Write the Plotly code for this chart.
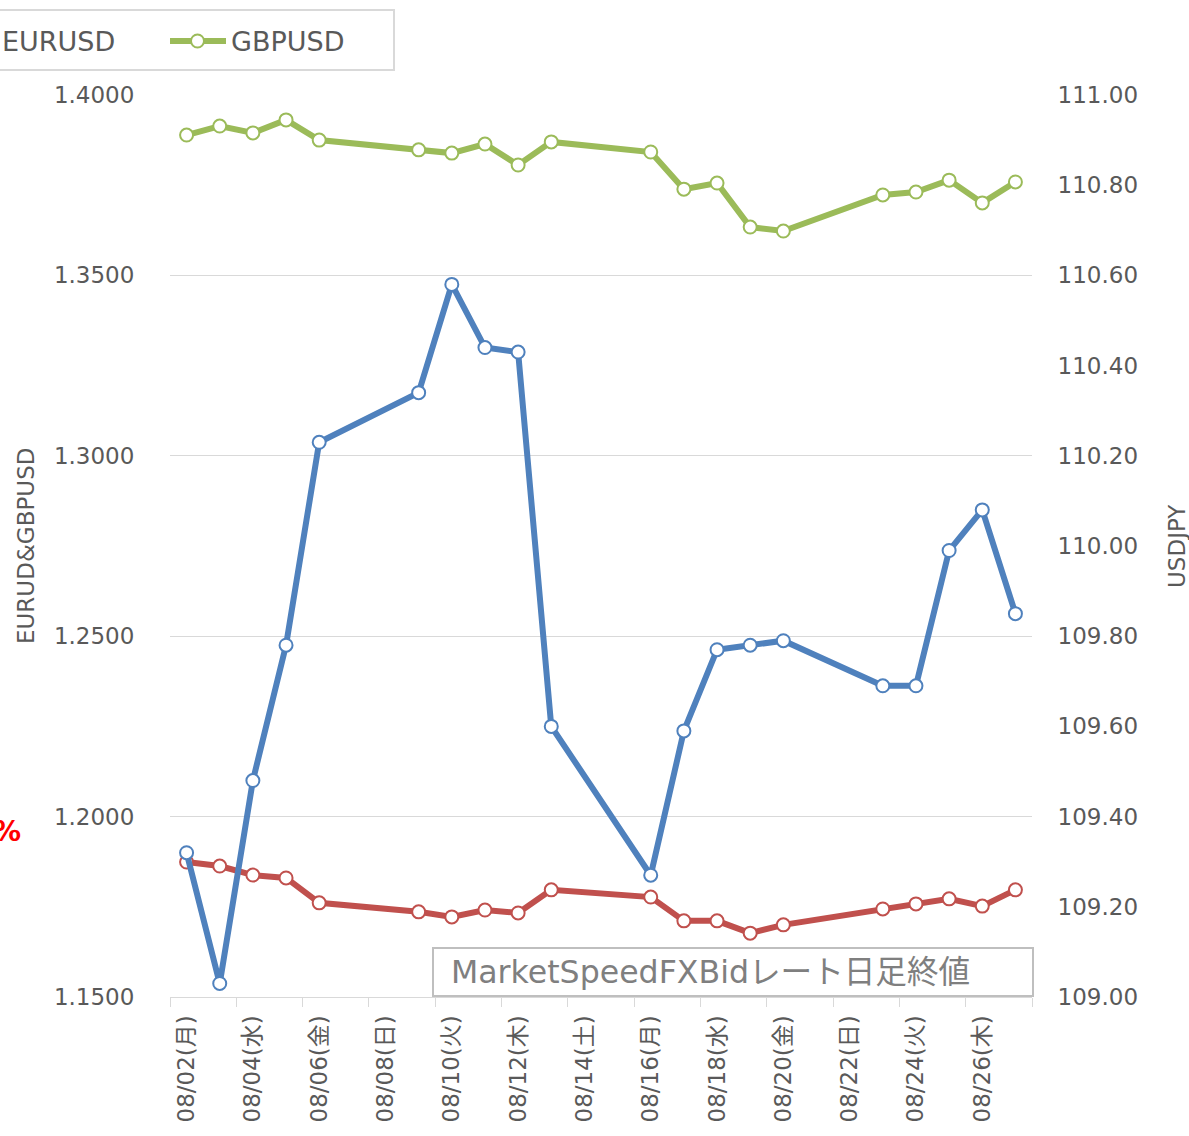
import plotly.graph_objects as go

dates = ["2021-08-02", "2021-08-03", "2021-08-04", "2021-08-05", "2021-08-06",
         "2021-08-09", "2021-08-10", "2021-08-11", "2021-08-12", "2021-08-13",
         "2021-08-16", "2021-08-17", "2021-08-18", "2021-08-19", "2021-08-20",
         "2021-08-23", "2021-08-24", "2021-08-25", "2021-08-26", "2021-08-27"]

usdjpy = [109.32, 109.03, 109.48, 109.78, 110.23,
          110.34, 110.58, 110.44, 110.43, 109.60,
          109.27, 109.59, 109.77, 109.78, 109.79,
          109.69, 109.69, 109.99, 110.08, 109.85]

eurusd = [1.1874, 1.1863, 1.1838, 1.1830, 1.1761,
          1.1736, 1.1722, 1.1741, 1.1733, 1.1797,
          1.1777, 1.1711, 1.1711, 1.1677, 1.1700,
          1.1744, 1.1758, 1.1772, 1.1752, 1.1797]

gbpusd = [1.3889, 1.3914, 1.3895, 1.3931, 1.3875,
          1.3848, 1.3839, 1.3864, 1.3806, 1.3870,
          1.3842, 1.3739, 1.3756, 1.3634, 1.3623,
          1.3723, 1.3731, 1.3764, 1.3701, 1.3759]

tick_dates = ["2021-08-02", "2021-08-04", "2021-08-06", "2021-08-08", "2021-08-10",
              "2021-08-12", "2021-08-14", "2021-08-16", "2021-08-18", "2021-08-20",
              "2021-08-22", "2021-08-24", "2021-08-26"]
tick_labels = ["08/02(月)", "08/04(水)", "08/06(金)", "08/08(日)", "08/10(火)",
               "08/12(木)", "08/14(土)", "08/16(月)", "08/18(水)", "08/20(金)",
               "08/22(日)", "08/24(火)", "08/26(木)"]
boundary_ticks = ["2021-08-01 12:00", "2021-08-03 12:00", "2021-08-05 12:00",
                  "2021-08-07 12:00", "2021-08-09 12:00", "2021-08-11 12:00",
                  "2021-08-13 12:00", "2021-08-15 12:00", "2021-08-17 12:00",
                  "2021-08-19 12:00", "2021-08-21 12:00", "2021-08-23 12:00",
                  "2021-08-25 12:00", "2021-08-27 12:00"]

BLUE = "#4f81bd"
RED = "#c0504d"
GREEN = "#9bbb59"
TXT = "#595959"
FONT = "DejaVu Sans, Noto Sans CJK JP, sans-serif"

W, H = 1189, 1136
L, R, T, B = 170, 157, 95, 139
PW, PH = W - L - R, H - T - B


def px(x):
    return (x - L) / PW


def py(y):
    return (H - B - y) / PH


def mk(color):
    return dict(symbol="circle", size=13, color="white", line=dict(color=color, width=2))


fig = go.Figure()
fig.add_trace(go.Scatter(x=dates, y=eurusd, name="EURUSD", mode="lines+markers",
                         line=dict(color=RED, width=6), marker=mk(RED), yaxis="y"))
fig.add_trace(go.Scatter(x=dates, y=gbpusd, name="GBPUSD", mode="lines+markers",
                         line=dict(color=GREEN, width=6), marker=mk(GREEN), yaxis="y"))
fig.add_trace(go.Scatter(x=dates, y=usdjpy, name="USDJPY", mode="lines+markers",
                         line=dict(color=BLUE, width=6), marker=mk(BLUE), yaxis="y2"))

shapes = [
    # legend box
    dict(type="rect", xref="paper", yref="paper", x0=px(-60), x1=px(394), y0=py(70), y1=py(10),
         line=dict(color="#d9d9d9", width=2), fillcolor="white", layer="below"),
    dict(type="line", xref="paper", yref="paper", x0=px(170), x1=px(226), y0=py(41), y1=py(41),
         line=dict(color=GREEN, width=6)),
    dict(type="circle", xref="paper", yref="paper",
         x0=px(191), x1=px(204), y0=py(47.5), y1=py(34.5),
         line=dict(color=GREEN, width=2), fillcolor="white"),
    # annotation box
    dict(type="rect", xref="paper", yref="paper", x0=px(433), x1=px(1033), y0=py(996), y1=py(948),
         line=dict(color="#bfbfbf", width=2), fillcolor="white"),
]

annotations = [
    dict(xref="paper", yref="paper", x=px(0), y=py(41), xanchor="left", yanchor="middle",
         text="EURUSD", showarrow=False, font=dict(size=27, color=TXT, family=FONT)),
    dict(xref="paper", yref="paper", x=px(229), y=py(41), xanchor="left", yanchor="middle",
         text="GBPUSD", showarrow=False, font=dict(size=27, color=TXT, family=FONT)),
    dict(xref="paper", yref="paper", x=px(449), y=py(972), xanchor="left", yanchor="middle",
         text="MarketSpeedFXBidレート日足終値", showarrow=False,
         font=dict(size=31.6, color="#7f7f7f", family=FONT)),
    dict(xref="paper", yref="paper", x=px(23), y=py(831), xanchor="right", yanchor="middle",
         text="<b>%</b>", showarrow=False, font=dict(size=28, color="#ff0000", family=FONT)),
    dict(xref="paper", yref="paper", x=px(26), y=py(546), xanchor="center", yanchor="middle",
         text="EURUD&GBPUSD", textangle=-90, showarrow=False,
         font=dict(size=23, color=TXT, family=FONT)),
    dict(xref="paper", yref="paper", x=px(1177), y=py(546), xanchor="center", yanchor="middle",
         text="USDJPY", textangle=-90, showarrow=False,
         font=dict(size=23, color=TXT, family=FONT)),
]

fig.update_layout(
    width=W, height=H,
    margin=dict(l=L, r=R, t=T, b=B, autoexpand=False),
    paper_bgcolor="white", plot_bgcolor="white",
    showlegend=False,
    font=dict(family=FONT, color=TXT, size=23),
    shapes=shapes, annotations=annotations,
    xaxis=dict(
        type="date", range=["2021-08-01 12:00", "2021-08-27 12:00"],
        tickmode="array", tickvals=tick_dates, ticktext=tick_labels, tickangle=-90,
        ticks="outside", ticklen=8, tickcolor="rgba(0,0,0,0)",
        showgrid=False, zeroline=False,
        showline=True, linecolor="#d9d9d9", linewidth=1,
        tickfont=dict(size=23, color=TXT),
        minor=dict(tickmode="array", tickvals=boundary_ticks, ticks="outside",
                   ticklen=9, tickcolor="#d9d9d9", tickwidth=1, showgrid=False),
    ),
    yaxis=dict(
        range=[1.15, 1.40], tickmode="linear", tick0=1.15, dtick=0.05, tickformat=".4f",
        showgrid=True, gridcolor="#d9d9d9", gridwidth=1, zeroline=False,
        ticks="outside", ticklen=30, tickcolor="rgba(0,0,0,0)",
        tickfont=dict(size=23, color=TXT), showline=False,
    ),
    yaxis2=dict(
        range=[109, 111], tickmode="linear", tick0=109, dtick=0.2, tickformat=".2f",
        overlaying="y", side="right", showgrid=False, zeroline=False,
        ticks="outside", ticklen=20, tickcolor="rgba(0,0,0,0)",
        tickfont=dict(size=23, color=TXT), showline=False,
    ),
)

fig.write_html("out.html", config={"displayModeBar": False},
               post_script="document.body.style.margin='0';document.body.style.overflow='hidden';")
